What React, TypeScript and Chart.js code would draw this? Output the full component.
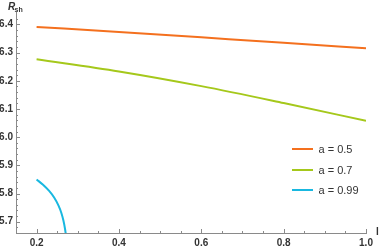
import React, { useEffect, useRef } from "react";
import { Chart, registerables } from "chart.js";

Chart.register(...registerables);

const xOrange = [0.2, 0.4, 0.6, 0.8, 1.0];
const yOrange = [6.391, 6.373, 6.354, 6.335, 6.315];
const xGreen = [0.2, 0.4, 0.6, 0.8, 1.0];
const yGreen = [6.276, 6.233, 6.181, 6.121, 6.058];
const xCyan = [0.2, 0.215, 0.23, 0.243, 0.253, 0.26, 0.265, 0.269, 0.272];
const yCyan = [5.85, 5.832, 5.81, 5.785, 5.758, 5.732, 5.705, 5.675, 5.645];
const seriesLabels = ["a = 0.5", "a = 0.7", "a = 0.99"];
const xTickLabels = [0.2, 0.4, 0.6, 0.8, 1.0];
const yTickLabels = [5.7, 5.8, 5.9, 6.0, 6.1, 6.2, 6.3, 6.4];

const COLORS = ["#f4701e", "#a5c81b", "#19b8e0"];
const FONT = "'Liberation Sans', Arial, sans-serif";

const isLabel = (v: number, arr: number[]) => arr.some((t) => Math.abs(t - v) < 1e-6);
const isMultiple = (v: number, step: number) => Math.abs(v / step - Math.round(v / step)) < 1e-4;

const overlay = {
  id: "overlay",
  afterDraw(chart: any) {
    const ctx = chart.ctx;
    const xs = chart.scales.x;
    const ys = chart.scales.y;
    const area = chart.chartArea;
    ctx.save();
    ctx.strokeStyle = "#8a8a8a";
    ctx.lineWidth = 1;
    xs.ticks.forEach((t: any) => {
      if (!isMultiple(t.value, 0.05) || t.value < 0.17) return;
      const px = Math.round(xs.getPixelForValue(t.value)) + 0.5;
      const len = isLabel(t.value, xTickLabels) ? 4 : 2;
      ctx.beginPath();
      ctx.moveTo(px, area.bottom);
      ctx.lineTo(px, area.bottom - len);
      ctx.stroke();
    });
    ys.ticks.forEach((t: any) => {
      if (!isMultiple(t.value, 0.02) || t.value < 5.665) return;
      const py = Math.round(ys.getPixelForValue(t.value)) + 0.5;
      const len = isLabel(t.value, yTickLabels) ? 4 : 2;
      ctx.beginPath();
      ctx.moveTo(area.left, py);
      ctx.lineTo(area.left + len, py);
      ctx.stroke();
    });
    ctx.fillStyle = "#333";
    ctx.textBaseline = "alphabetic";
    ctx.textAlign = "left";
    ctx.font = `italic bold 10px ${FONT}`;
    ctx.fillText("R", 8, 10);
    ctx.font = `bold 7px ${FONT}`;
    ctx.fillText("sh", 14.5, 12);
    ctx.font = `bold 10px ${FONT}`;
    ctx.textBaseline = "middle";
    ctx.fillText("l", 376, 232);
    const ly = [149, 170, 190];
    chart.data.datasets.forEach((ds: any, i: number) => {
      ctx.strokeStyle = ds.borderColor;
      ctx.lineWidth = 2;
      ctx.beginPath();
      ctx.moveTo(292, ly[i]);
      ctx.lineTo(313, ly[i]);
      ctx.stroke();
      ctx.fillStyle = "#333";
      ctx.font = `11px ${FONT}`;
      ctx.textBaseline = "middle";
      ctx.fillText(ds.label, 318.5, ly[i] + 0.5);
    });
    ctx.restore();
  },
};

export default function App() {
  const ref = useRef<HTMLCanvasElement>(null);
  useEffect(() => {
    if (!ref.current) return;
    const mk = (xa: number[], ya: number[]) => xa.map((x, i) => ({ x, y: ya[i] }));
    const chart = new Chart(ref.current, {
      type: "line",
      data: {
        datasets: [
          { label: seriesLabels[0], data: mk(xOrange, yOrange), borderColor: COLORS[0] },
          { label: seriesLabels[1], data: mk(xGreen, yGreen), borderColor: COLORS[1] },
          { label: seriesLabels[2], data: mk(xCyan, yCyan), borderColor: COLORS[2] },
        ].map((d) => ({ ...d, borderWidth: 2, pointRadius: 0, fill: false, cubicInterpolationMode: "monotone" as const })),
      },
      options: {
        animation: false,
        responsive: false,
        devicePixelRatio: 1,
        layout: { padding: { left: 0, right: 13, top: 12, bottom: 0 } },
        plugins: { legend: { display: false }, tooltip: { enabled: false } },
        scales: {
          x: {
            type: "linear",
            min: 0.15,
            max: 1.0,
            grid: { display: false, drawTicks: false },
            border: { display: true, color: "#8a8a8a", width: 1 },
            ticks: {
              stepSize: 0.05,
              autoSkip: false,
              maxRotation: 0,
              padding: 4,
              color: "#333",
              font: { family: FONT, size: 10, weight: "bold" },
              callback: (v: any) => {
                const n = Number(v);
                return isLabel(n, xTickLabels) ? n.toFixed(1) : "";
              },
            },
            afterFit: (s: any) => {
              s.height = 13;
            },
          },
          y: {
            type: "linear",
            min: 5.66,
            max: 6.444,
            grid: { display: false, drawTicks: false },
            border: { display: true, color: "#8a8a8a", width: 1 },
            ticks: {
              stepSize: 0.02,
              autoSkip: false,
              padding: 3,
              color: "#333",
              font: { family: FONT, size: 10, weight: "bold" },
              callback: (v: any) => {
                const n = Number(v);
                return isLabel(n, yTickLabels) ? n.toFixed(1) : "";
              },
            },
            afterFit: (s: any) => {
              s.width = 16;
            },
          },
        },
      },
      plugins: [overlay],
    });
    return () => chart.destroy();
  }, []);
  return (
    <div style={{ position: "fixed", left: 0, top: 0, width: 379, height: 246, background: "#fff" }}>
      <canvas ref={ref} width={379} height={246} style={{ width: 379, height: 246, display: "block" }} />
    </div>
  );
}
